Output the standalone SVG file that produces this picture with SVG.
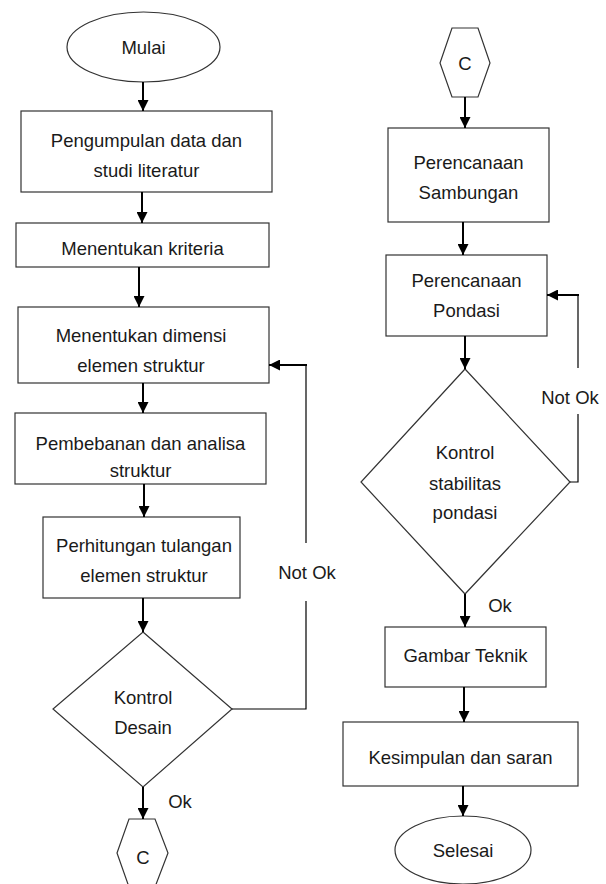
<svg xmlns="http://www.w3.org/2000/svg" width="606" height="884" viewBox="0 0 606 884">
<style>
.shape{fill:#fff;stroke:#333;stroke-width:1.2}
.t{font-family:"Liberation Sans",Arial,sans-serif;font-size:18.5px;fill:#1a1a1a;text-anchor:middle}
.c{stroke:#000;stroke-width:2;fill:none}
.thin{stroke:#000;stroke-width:1.2;fill:none}
</style>
<defs>
<marker id="ah" markerUnits="userSpaceOnUse" markerWidth="11" markerHeight="11" refX="11" refY="5.5" orient="auto">
<path d="M0,0 L11,5.5 L0,11 z" fill="#000"/>
</marker>
</defs>
<rect width="606" height="884" fill="#fff"/>
<g id="n-mulai"><ellipse class="shape" cx="143.5" cy="47" rx="76.5" ry="35"/><text class="t" x="143.5" y="53.5">Mulai</text></g>
<g id="n-pengumpulan"><rect class="shape" x="21" y="111" width="251" height="81"/><text class="t" x="146.5" y="146.5">Pengumpulan data dan</text><text class="t" x="146.5" y="176.5">studi literatur</text></g>
<g id="n-kriteria"><rect class="shape" x="16" y="223" width="253" height="44"/><text class="t" x="142.5" y="254.5">Menentukan kriteria</text></g>
<g id="n-dimensi"><rect class="shape" x="18" y="307" width="251" height="76"/><text class="t" x="141" y="341.5">Menentukan dimensi</text><text class="t" x="141" y="371.5">elemen struktur</text></g>
<g id="n-pembebanan"><rect class="shape" x="15" y="413" width="251" height="71"/><text class="t" x="140.5" y="449.5">Pembebanan dan analisa</text><text class="t" x="140.5" y="476.5">struktur</text></g>
<g id="n-perhitungan"><rect class="shape" x="43" y="517" width="197" height="81"/><text class="t" x="144" y="551.5">Perhitungan tulangan</text><text class="t" x="144" y="581.5">elemen struktur</text></g>
<g id="n-kontrol-desain"><polygon class="shape" points="143,632 232,709 143,787 53,709"/><text class="t" x="143" y="703.5">Kontrol</text><text class="t" x="143" y="733.5">Desain</text></g>
<g id="n-c1"><polygon class="shape" points="129,819 155,819 168,853 155,887 129,887 117,853"/><text class="t" x="143" y="863.5">C</text></g>
<g id="n-c2"><polygon class="shape" points="452,28 478,28 490,63 478,97 452,97 440,63"/><text class="t" x="465" y="69.5">C</text></g>
<g id="n-sambungan"><rect class="shape" x="388" y="128" width="161" height="94"/><text class="t" x="468.5" y="168.5">Perencanaan</text><text class="t" x="468.5" y="198.5">Sambungan</text></g>
<g id="n-pondasi"><rect class="shape" x="386" y="255" width="161" height="81"/><text class="t" x="466.5" y="286.5">Perencanaan</text><text class="t" x="466.5" y="316.5">Pondasi</text></g>
<g id="n-kontrol-stabilitas"><polygon class="shape" points="465,369 570,482 465,594 361,482"/><text class="t" x="465" y="458.5">Kontrol</text><text class="t" x="465" y="489.5">stabilitas</text><text class="t" x="465" y="518.5">pondasi</text></g>
<g id="n-gambar"><rect class="shape" x="385" y="627" width="161" height="60"/><text class="t" x="465.5" y="661.5">Gambar Teknik</text></g>
<g id="n-kesimpulan"><rect class="shape" x="343" y="722" width="235" height="64"/><text class="t" x="460.5" y="763.5">Kesimpulan dan saran</text></g>
<g id="n-selesai"><ellipse class="shape" cx="463" cy="850" rx="68" ry="34"/><text class="t" x="463" y="856.5">Selesai</text></g>
<g id="connectors">
<line class="c" x1="143" y1="82" x2="143" y2="111" marker-end="url(#ah)"/>
<line class="c" x1="142" y1="192" x2="142" y2="223" marker-end="url(#ah)"/>
<line class="c" x1="139" y1="267" x2="139" y2="307" marker-end="url(#ah)"/>
<line class="c" x1="143" y1="383" x2="143" y2="413" marker-end="url(#ah)"/>
<line class="c" x1="144" y1="484" x2="144" y2="517" marker-end="url(#ah)"/>
<line class="c" x1="143" y1="598" x2="143" y2="632" marker-end="url(#ah)"/>
<line class="c" x1="143" y1="787" x2="143" y2="819" marker-end="url(#ah)"/>
<polyline class="thin" points="232,709 306,709 306,601"/>
<line class="thin" x1="306" y1="543" x2="306" y2="365"/>
<line class="c" x1="307" y1="365" x2="269" y2="365" marker-end="url(#ah)"/>
<line class="c" x1="465" y1="97" x2="465" y2="128" marker-end="url(#ah)"/>
<line class="c" x1="463" y1="222" x2="463" y2="255" marker-end="url(#ah)"/>
<line class="c" x1="465" y1="336" x2="465" y2="369" marker-end="url(#ah)"/>
<line class="c" x1="465" y1="594" x2="465" y2="627" marker-end="url(#ah)"/>
<line class="c" x1="464" y1="687" x2="464" y2="722" marker-end="url(#ah)"/>
<line class="c" x1="463" y1="786" x2="463" y2="816" marker-end="url(#ah)"/>
<polyline class="thin" points="570,482 578,482 578,414"/>
<line class="thin" x1="578" y1="368" x2="578" y2="295"/>
<line class="c" x1="579" y1="295" x2="547" y2="295" marker-end="url(#ah)"/>
<text class="t" x="307" y="578.5">Not Ok</text>
<text class="t" x="180" y="808">Ok</text>
<text class="t" x="570" y="403.5">Not Ok</text>
<text class="t" x="500" y="611.5">Ok</text>
</g>
</svg>
